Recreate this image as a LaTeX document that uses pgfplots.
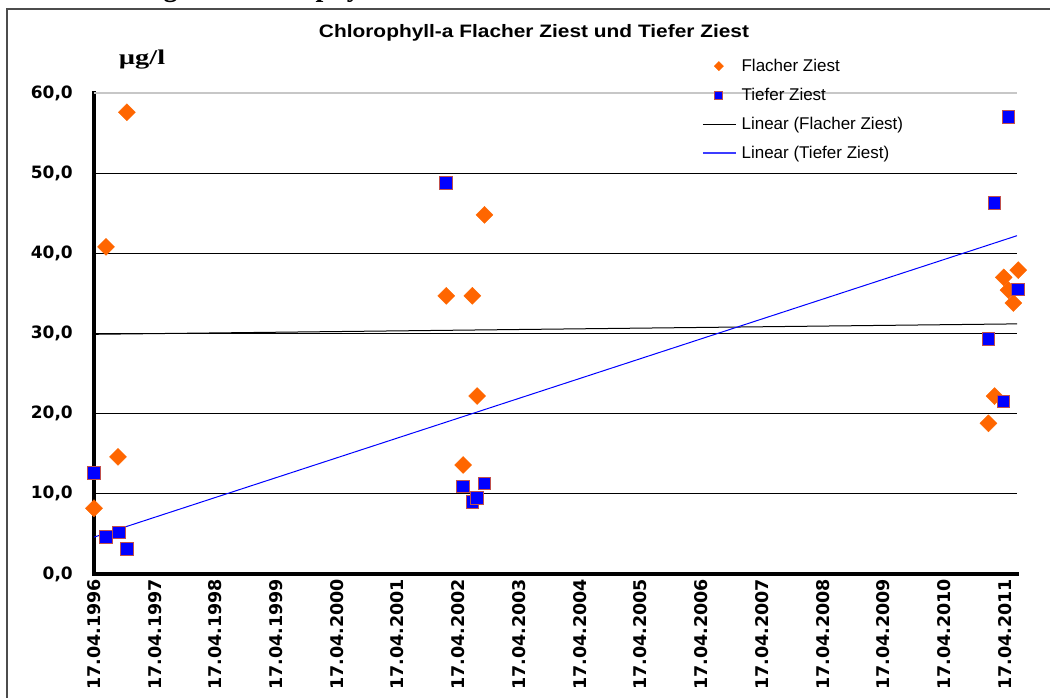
\documentclass[border=0pt]{standalone}
\usepackage{fontspec}
\setmainfont{Liberation Sans}
\newfontfamily\dejavu{DejaVu Sans}
\newfontfamily\serif{Liberation Serif}
\usepackage{pgfplots}
\pgfplotsset{compat=1.18}
\definecolor{orng}{HTML}{FF6600}
\definecolor{sqedge}{HTML}{C0504D}
\definecolor{tblue}{HTML}{0000FF}
\definecolor{legblue}{HTML}{3C3CFF}
\pgfplotsset{
  legmark/.style={legend image code/.code={\path[draw=none,fill=none] (0pt,0pt) -- (33pt,0pt); \draw[##1, mark size=#1] plot coordinates {(16pt,0pt)};}},
  leglineblack/.style={legend image code/.code={\draw[color=black, line width=1.2pt] (0pt,0pt) -- (33pt,0pt);}},
  leglineblue/.style={legend image code/.code={\draw[color=legblue, line width=1.4pt] (0pt,0pt) -- (33pt,0pt);}},
}
\begin{document}
\begin{tikzpicture}[x=1pt,y=1pt]
\begin{axis}[
  at={(94pt,123pt)}, anchor=south west,
  scale only axis, width=923pt, height=481pt,
  xmin=0, xmax=15.2, ymin=0, ymax=60,
  clip=false,
  axis x line*=bottom, axis y line*=left,
  axis line style={line width=4pt, -, line cap=rect},
  major tick length=0pt,
  xtick={0,1,...,15},
  xticklabels={17.04.1996,17.04.1997,17.04.1998,17.04.1999,17.04.2000,17.04.2001,17.04.2002,17.04.2003,17.04.2004,17.04.2005,17.04.2006,17.04.2007,17.04.2008,17.04.2009,17.04.2010,17.04.2011},
  xticklabel style={rotate=90, anchor=east, inner sep=0pt, xshift=-5pt, font=\dejavu\bfseries\fontsize{17.5}{17.5}\selectfont},
  ytick={0,10,...,60},
  yticklabel={\pgfmathprintnumber[fixed,fixed zerofill,precision=1,use comma,assume math mode=true]{\tick}},
  yticklabel style={anchor=east, inner sep=0pt, xshift=-21pt, font=\dejavu\bfseries\fontsize{17}{17}\selectfont},
  ymajorgrids,
  grid style={black, line width=0.9pt},
  legend style={at={(0.6587,1.0707)}, anchor=north west, draw=none, fill=none,
    inner sep=0pt, font=\fontsize{17}{20}\selectfont, row sep=15.2pt, column sep=5pt,
    nodes={inner sep=0pt}},
  legend cell align=left,
]
% light grid line at 60
\draw[black!22, line width=1.2pt] (axis cs:0,60) -- (axis cs:15.2,60);
% trend lines (drawn under the markers)
\addplot[black, line width=1pt, forget plot] coordinates {(0,29.9) (15.2,31.2)};
\addplot[tblue, line width=1pt, forget plot] coordinates {(0,4.6) (15.2,42.2)};
% Flacher Ziest
\addplot[only marks, mark=square*, mark size=6pt,
  mark options={rotate=45, fill=orng, draw=orng}, legmark=3.3pt]
  coordinates {
  (0,8.2) (0.198,40.8) (0.395,14.6) (0.54,57.6)
  (5.80,34.7) (6.23,34.7) (6.43,44.8) (6.31,22.2) (6.08,13.6)
  (14.73,18.8) (14.83,22.2) (14.98,37.0) (15.06,35.4) (15.14,33.8) (15.22,37.9)
  };
\addlegendentry{Flacher Ziest}
% Tiefer Ziest
\addplot[only marks, mark=square*, mark size=6.3pt,
  mark options={fill=tblue, draw=sqedge, line width=1pt}, legmark=4pt]
  coordinates {
  (0,12.6) (0.198,4.6) (0.41,5.2) (0.54,3.1)
  (5.80,48.8) (6.08,10.9) (6.23,9.0) (6.31,9.5) (6.43,11.3)
  (14.73,29.3) (14.83,46.3) (14.98,21.5) (15.06,57.0) (15.22,35.5)
  };
\addlegendentry{Tiefer Ziest}
\addlegendimage{black, leglineblack}
\addlegendentry{Linear (Flacher Ziest)}
\addlegendimage{legblue, leglineblue}
\addlegendentry{Linear (Tiefer Ziest)}
\end{axis}
% outer frame
\draw[line width=2pt, black!70] (7,-20) -- (7,688) -- (1100,688);
% cut-off heading above the frame
\node[anchor=base west, inner sep=0pt, font=\serif\bfseries\fontsize{28}{28}\selectfont] at (25,700) {Entwicklung der Chlorophyll-a Gehalte};
% chart title
\node[anchor=base, inner sep=0pt, font=\bfseries\fontsize{18}{18}\selectfont] at (534,659) {\scalebox{1.16}[1]{Chlorophyll-a Flacher Ziest und Tiefer Ziest}};
% unit
\node[anchor=base, inner sep=0pt, font=\serif\bfseries\fontsize{21}{21}\selectfont] at (142,632) {\scalebox{1.35}[1]{µg/l}};
\pgfresetboundingbox
\useasboundingbox (0,0) rectangle (1050,697);
\end{tikzpicture}
\end{document}
